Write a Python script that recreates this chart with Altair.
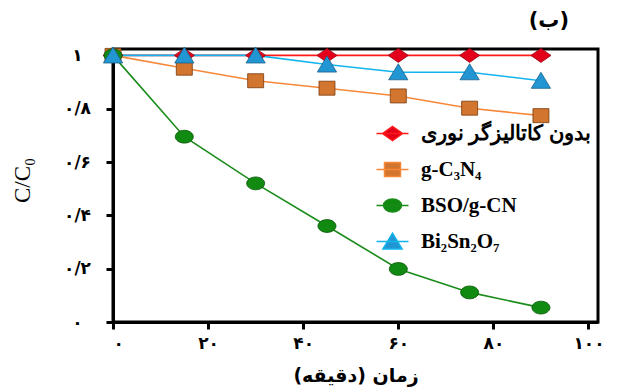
import altair as alt
import pandas as pd

# ---- data ----
times = [0, 15, 30, 45, 60, 75, 90]
series_names = ["بدون کاتالیزگر نوری", "g-C₃N₄", "BSO/g-CN", "Bi₂Sn₂O₇"]
no_catalyst = [1.0, 1.0, 1.0, 1.0, 1.0, 1.0, 1.0]
g_c3n4 = [1.0, 0.952, 0.905, 0.877, 0.848, 0.802, 0.774]
bso_gcn = [1.0, 0.695, 0.520, 0.360, 0.199, 0.111, 0.054]
bi2sn2o7 = [1.0, 1.0, 1.0, 0.966, 0.937, 0.937, 0.905]

y_tick_values = [0, 0.2, 0.4, 0.6, 0.8, 1.0]
y_tick_labels = ["۰", "۰/۲", "۰/۴", "۰/۶", "۰/۸", "۱"]
x_tick_values = [0, 20, 40, 60, 80, 100]
x_tick_labels = ["۰", "۲۰", "۴۰", "۶۰", "۸۰", "۱۰۰"]

line_colors = ["#ff1a1a", "#f7883a", "#1a8c1a", "#12b4ee"]
fill_colors = ["#e3001b", "#d2752e", "#108a10", "#2196d3"]
edge_colors = ["#9a0010", "#7a3a0c", "#065206", "#1a5f8a"]

marker_paths = [
    "M-1.25,0L0,-0.875L1.25,0L0,0.875Z",
    "M-1,-0.875H1V0.875H-1Z",
    "M-1.125,0A1.125,0.8 0 1,0 1.125,0A1.125,0.8 0 1,0 -1.125,0Z",
    "M0,-1.05L1.2,0.95H-1.2Z",
]
legend_paths = ["M-2,0H2" + p for p in marker_paths]

rows = []
for name, vals in zip(series_names, [no_catalyst, g_c3n4, bso_gcn, bi2sn2o7]):
    for t, v in zip(times, vals):
        rows.append({"series": name, "t": t, "c": v})
df = pd.DataFrame(rows)

x_enc = alt.X("t:Q", scale=alt.Scale(domain=[0, 102], nice=False, zero=False),
              axis=alt.Axis(values=x_tick_values, title="زمان (دقیقه)",
                            labelExpr="%s[round(datum.value/20)]" % str(x_tick_labels).replace("'", '"'),
                            labelPadding=6, titleY=53, titleBaseline="middle"))
y_enc = alt.Y("c:Q", scale=alt.Scale(domain=[0, 1.024], nice=False),
              axis=alt.Axis(values=y_tick_values, title="C/C₀",
                            labelExpr="%s[round(datum.value*5)]" % str(y_tick_labels).replace("'", '"'),
                            labelAlign="center", labelPadding=29, labelBaseline="middle",
                            titleX=-91, titleY=131, titleAngle=-90, titleAlign="center",
                            titleBaseline="middle", titleFont="Liberation Serif",
                            titleFontWeight="normal", titleFontSize=23))

lines = alt.Chart(df).mark_line(strokeWidth=1.6).encode(
    x=x_enc, y=y_enc,
    stroke=alt.Stroke("series:N", scale=alt.Scale(domain=series_names, range=line_colors), legend=None),
    detail="series:N",
)

points = alt.Chart(df).mark_point(filled=True, size=256, strokeWidth=0.8, opacity=1).encode(
    x="t:Q", y="c:Q",
    shape=alt.Shape("series:N", scale=alt.Scale(domain=series_names, range=marker_paths), legend=None),
    fill=alt.Fill("series:N", scale=alt.Scale(domain=series_names, range=fill_colors), legend=None),
    stroke=alt.Stroke("series:N", scale=alt.Scale(domain=series_names, range=edge_colors), legend=None),
)

leg = alt.Legend(title=None, orient="none", legendX=269, legendY=74,
                 symbolSize=256, symbolOpacity=1, symbolStrokeWidth=1.5,
                 labelOffset=18, rowPadding=14, padding=0,
                 labelFont="Liberation Serif", labelFontSize=21,
                 labelFontWeight="bold", labelColor="black", labelLimit=300)

legend_layer = alt.Chart(df).mark_point(filled=True, size=256, opacity=0, strokeWidth=1.5).encode(
    x="t:Q", y="c:Q",
    shape=alt.Shape("series:N", scale=alt.Scale(domain=series_names, range=legend_paths), legend=leg),
    fill=alt.Fill("series:N", scale=alt.Scale(domain=series_names, range=fill_colors), legend=leg),
    stroke=alt.Stroke("series:N", scale=alt.Scale(domain=series_names, range=line_colors), legend=leg),
)

chart = alt.layer(lines, points, legend_layer).resolve_scale(
    stroke="independent", shape="independent", fill="independent"
).properties(
    width=485, height=273,
    background="white",
    title=alt.TitleParams("(ب)", anchor="end", dx=-35, offset=14, fontSize=21,
                          fontWeight="bold", font="DejaVu Sans", color="black"),
    autosize=alt.AutoSizeParams(type="none"),
    padding={"left": 113, "top": 49, "right": 23, "bottom": 67},
).configure_view(
    stroke="black", strokeWidth=3
).configure_axis(
    grid=False, domainColor="black", domainWidth=3, tickColor="black", tickWidth=3,
    tickSize=7, labelFont="DejaVu Sans", labelFontSize=17, labelFontWeight="bold",
    labelColor="black", titleFont="DejaVu Sans", titleFontSize=19, titleFontWeight="bold",
    titleColor="black",
)

chart.save("out.html", embed_options={"renderer": "svg", "actions": False})
